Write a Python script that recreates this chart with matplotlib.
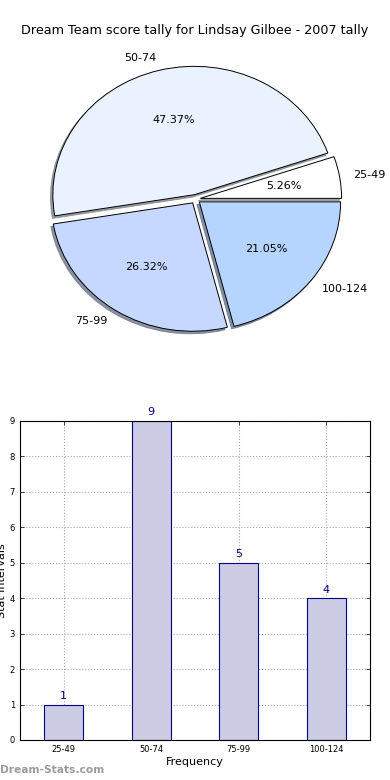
import matplotlib
matplotlib.use("Agg")
import matplotlib.pyplot as plt

categories = ["25-49", "50-74", "75-99", "100-124"]
counts = [1, 9, 5, 4]
pie_colors = ["#FFFFFF", "#EAF1FF", "#C6D8FF", "#B5D5FF"]
explode = [0.035, 0.035, 0.035, 0.035]
title = "Dream Team score tally for Lindsay Gilbee - 2007 tally"

fig = plt.figure(figsize=(3.9, 7.8), dpi=100)

# Pie
ax1 = fig.add_axes([0.048, 0.539, 0.906, 0.4115])
wedges, texts, autotexts = ax1.pie(
    counts, labels=categories, colors=pie_colors, explode=explode,
    autopct="%.2f%%", startangle=0,
    shadow=dict(ox=-0.012, oy=-0.014, shade=0.45, alpha=0.8),
    wedgeprops=dict(edgecolor="black", linewidth=0.7),
    textprops=dict(fontsize=8))
ax1.set_aspect("auto")
ax1.set_xlim(-1.25, 1.25)
ax1.set_ylim(-1.25, 1.25)
fig.text(0.5, 0.961, title, ha="center", va="center", fontsize=9.2)

# Bars
ax2 = fig.add_axes([0.051, 0.0513, 0.898, 0.409])
x = list(range(len(categories)))
bars = ax2.bar(x, counts, width=0.45, color="#CCCCE5", edgecolor="#000080",
               linewidth=0.8, zorder=2)
for xi, v in zip(x, counts):
    ax2.text(xi, v + 0.1, str(v), ha="center", va="bottom", color="#000080",
             fontsize=8)
ax2.set_xlim(-0.5, 3.5)
ax2.set_ylim(0, 9)
ax2.set_xticks(x)
ax2.set_xticklabels(categories)
ax2.set_yticks(range(0, 10))
ax2.tick_params(direction="in", labelsize=6, top=True, right=True, length=3,
                width=0.5)
ax2.grid(True, linestyle=":", color="#aaaaaa", linewidth=0.8, zorder=0)
ax2.set_axisbelow(True)
ax2.set_xlabel("Frequency", fontsize=8, labelpad=2)
ax2.set_ylabel("Stat intervals", fontsize=8, labelpad=2)

fig.text(0.0, 0.0125, "Dream-Stats.com", ha="left", va="center", fontsize=7.7,
         fontweight="bold", color="#9c9c9c")

fig.savefig("out.png", dpi=100)
